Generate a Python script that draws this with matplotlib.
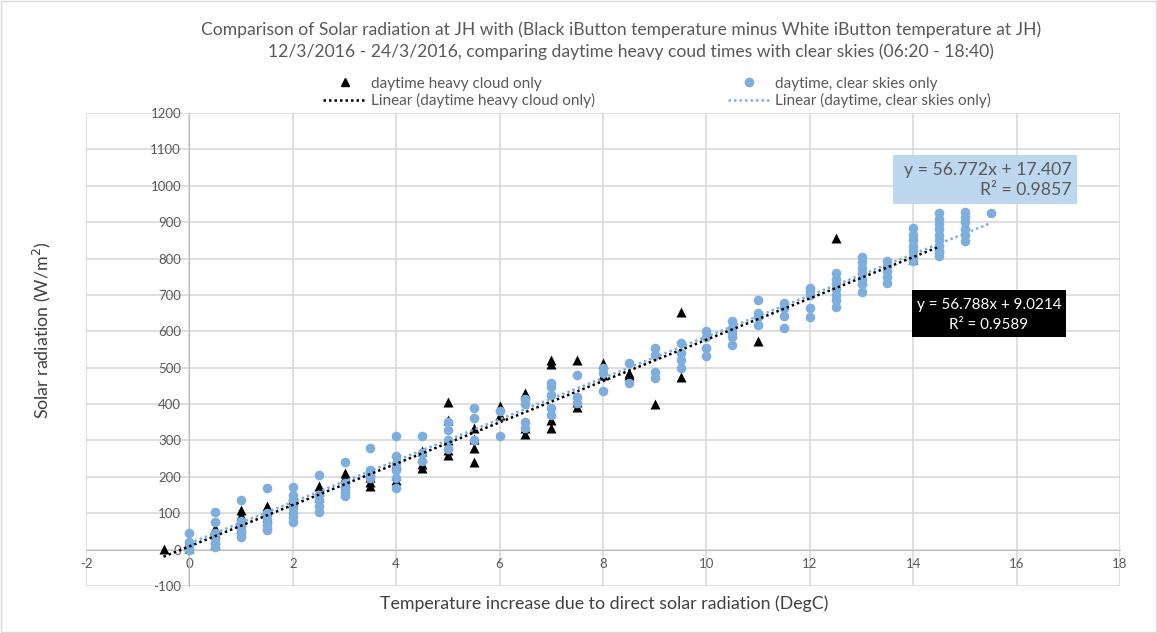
import matplotlib
matplotlib.use("Agg")
import matplotlib.pyplot as plt
from matplotlib.patches import Rectangle
from matplotlib.lines import Line2D
import numpy as np

plt.rcParams['font.family'] = ['Lato', 'DejaVu Sans']

# ---------------- data ----------------
cloud_x = [-0.5, 0,
           0.5, 0.5, 0.5, 0.5,
           1, 1, 1, 1,
           1.5, 1.5, 1.5,
           2, 2, 2,
           2.5, 2.5, 2.5,
           3, 3, 3, 3,
           3.5, 3.5, 3.5, 3.5,
           4, 4, 4,
           4.5, 4.5, 4.5, 4.5,
           5, 5, 5, 5, 5,
           5.5, 5.5, 5.5, 5.5,
           6, 6,
           6.5, 6.5, 6.5,
           7, 7, 7, 7,
           7.5, 7.5, 7.5,
           8, 8,
           8.5, 8.5,
           9,
           9.5, 9.5,
           11,
           12.5,
           13, 14, 14.5]
cloud_y = [3, 5,
           60, 45, 30, 15,
           110, 95, 80, 60,
           120, 105, 90,
           150, 140, 130,
           175, 160, 145,
           210, 200, 185, 170,
           215, 200, 185, 175,
           235, 205, 190,
           270, 255, 235, 225,
           405, 355, 300, 275, 260,
           335, 305, 280, 242,
           396, 370,
           431, 335, 319,
           520, 510, 357, 335,
           522, 405, 393,
           514, 480,
           486, 480,
           401,
           654, 475,
           572,
           857,
           740, 800, 830]

clear_x = ([0] * 5 + [0.5] * 6 + [1] * 6 + [1.5] * 6 + [2] * 7 + [2.5] * 5 +
           [3] * 5 + [3.5] * 4 + [4] * 6 + [4.5] * 3 + [5] * 4 + [5.5] * 3 +
           [6] * 2 + [6.5] * 4 + [7] * 5 + [7.5] * 3 + [8] * 3 + [8.5] * 2 +
           [9] * 4 + [9.5] * 4 + [10] * 4 + [10.5] * 5 + [11] * 4 + [11.5] * 4 +
           [12] * 5 + [12.5] * 7 + [13] * 7 + [13.5] * 5 + [14] * 7 +
           [14.5] * 9 + [15] * 6 + [15.5] * 1)
clear_y = [45, 20, 10, 3, 0,
           104, 77, 45, 30, 18, 8,
           137, 80, 65, 55, 45, 35,
           170, 100, 85, 70, 60, 54,
           171, 150, 137, 115, 100, 91, 77,
           206, 150, 137, 120, 104,
           242, 184, 170, 160, 146,
           280, 220, 210, 198,
           311, 256, 236, 218, 196, 170,
           313, 266, 243,
           352, 330, 302, 277,
           388, 362, 300,
           382, 313,
           415, 400, 352, 335,
           459, 448, 426, 390, 371,
           481, 420, 404,
           500, 486, 437,
           514, 459,
           555, 536, 489, 473,
           569, 541, 522, 500,
           602, 585, 555, 533,
           627, 610, 595, 583, 561,
           687, 651, 640, 618,
           679, 665, 641, 610,
           720, 710, 700, 665, 640,
           761, 745, 730, 715, 700, 687, 668,
           803, 790, 775, 760, 745, 730, 709,
           792, 780, 765, 750, 734,
           885, 865, 850, 835, 820, 805, 792,
           926, 910, 895, 880, 865, 850, 835, 820, 808,
           929, 915, 900, 880, 865, 847,
           926]

# trendline coefficients as displayed
cloud_slope, cloud_intercept, cloud_r2 = 56.788, 9.0214, 0.9589
clear_slope, clear_intercept, clear_r2 = 56.772, 17.407, 0.9857

x_ticks = list(range(-2, 19, 2))
y_ticks = list(range(-100, 1201, 100))

title_lines = ["Comparison of Solar radiation at JH with (Black iButton temperature minus White iButton temperature at JH)",
               "12/3/2016 - 24/3/2016, comparing daytime heavy coud times with clear skies (06:20 - 18:40)"]

# ---------------- figure ----------------
W, H = 1157, 633
fig = plt.figure(figsize=(W / 100, H / 100), dpi=100)
fig.patches.append(Rectangle((0.001, 0.001), 0.998, 0.998, transform=fig.transFigure,
                             fill=False, edgecolor='#D9D9D9', linewidth=1))

def fx(px):
    return px / W

def fy(py):
    return 1 - py / H

ax = fig.add_axes([fx(86), fy(586), fx(1120) - fx(86), fy(113) - fy(586)])

blue = '#7DAEDD'
grid_c = '#D9D9D9'
text_c = '#595959'

ax.scatter(cloud_x, cloud_y, marker='^', s=52, color='black', zorder=3, linewidths=0)
ax.scatter(clear_x, clear_y, marker='o', s=48, color=blue, zorder=4, linewidths=0)

cx = np.array([min(cloud_x), max(cloud_x)])
bx = np.array([min(clear_x), max(clear_x)])
ax.plot(cx, cloud_slope * cx + cloud_intercept, color='black', linewidth=1.8,
        linestyle=(0, (1, 1.2)), zorder=5)
ax.plot(bx, clear_slope * bx + clear_intercept, color=blue, linewidth=1.8,
        linestyle=(0, (1, 1.2)), zorder=5)

ax.set_xlim(-2, 18)
ax.set_ylim(-100, 1200)
ax.set_xticks(x_ticks)
ax.set_yticks(y_ticks)
ax.grid(True, color=grid_c, linewidth=1.2, zorder=0)
ax.set_axisbelow(True)
for s in ['top', 'right']:
    ax.spines[s].set_visible(False)
ax.spines['left'].set_position(('data', 0))
ax.spines['bottom'].set_position(('data', 0))
ax.spines['left'].set_color('#BFBFBF')
ax.spines['bottom'].set_color('#BFBFBF')
ax.tick_params(length=0, labelsize=9.5, labelcolor=text_c, pad=6)
ax.set_xticklabels([str(v) for v in x_ticks])
ax.set_yticklabels([str(v) for v in y_ticks])

# titles
fig.text(fx(621), fy(30), title_lines[0], ha='center', va='center', fontsize=12.6, color=text_c)
fig.text(fx(631), fy(52), title_lines[1], ha='center', va='center', fontsize=12.6, color=text_c)
fig.text(fx(604), fy(604), "Temperature increase due to direct solar radiation (DegC)",
         ha='center', va='center', fontsize=12.8, color='#404040')
fig.text(fx(42), fy(330), "Solar radiation (W/m$^2$)", ha='center', va='center',
         rotation=90, fontsize=12.8, color='#404040')

# legend
h1 = Line2D([], [], marker='^', color='black', linestyle='none', markersize=6)
h2 = Line2D([], [], color='black', linestyle=(0, (1, 1.2)), linewidth=1.8)
h3 = Line2D([], [], marker='o', color=blue, linestyle='none', markersize=6)
h4 = Line2D([], [], color=blue, linestyle=(0, (1, 1.2)), linewidth=1.8)
fig.legend([h1, h2, h3, h4],
           ["daytime heavy cloud only", "Linear (daytime heavy cloud only)",
            "daytime, clear skies only", "Linear (daytime, clear skies only)"],
           ncol=2, loc='center', bbox_to_anchor=(fx(657), fy(92.5)), frameon=False,
           fontsize=11, labelcolor=text_c, handlelength=2.8, handletextpad=0.3,
           columnspacing=8.7, labelspacing=0.15, borderpad=0)

# equation boxes
fig.patches.append(Rectangle((fx(893), fy(204)), fx(1077) - fx(893), fy(155) - fy(204),
                             transform=fig.transFigure, facecolor='#BDD7EE', edgecolor='none', zorder=10))
fig.text(fx(1072), fy(170), f"y = {clear_slope}x + {clear_intercept}", ha='right', va='center',
         fontsize=12.7, color=text_c, zorder=11)
fig.text(fx(1072), fy(190), f"R² = {clear_r2}", ha='right', va='center',
         fontsize=12.7, color=text_c, zorder=11)

fig.patches.append(Rectangle((fx(912), fy(337)), fx(1066) - fx(912), fy(290) - fy(337),
                             transform=fig.transFigure, facecolor='black', edgecolor='none', zorder=10))
fig.text(fx(989), fy(305), f"y = {cloud_slope}x + {cloud_intercept}", ha='center', va='center',
         fontsize=11, color='white', zorder=11)
fig.text(fx(989), fy(325), f"R² = {cloud_r2}", ha='center', va='center',
         fontsize=11, color='white', zorder=11)

fig.savefig("out.png", dpi=100)
